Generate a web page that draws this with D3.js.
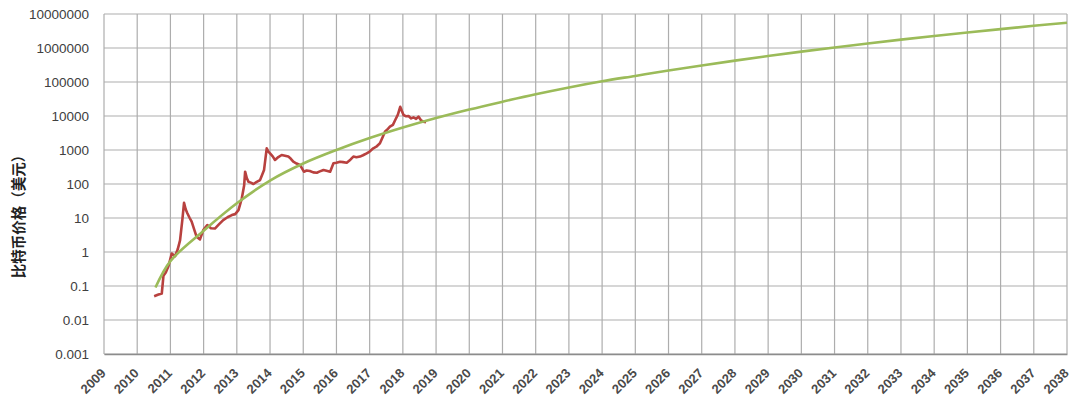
<!DOCTYPE html>
<html><head><meta charset="utf-8">
<script src="https://cdn.jsdelivr.net/npm/d3@7"></script>
<style>
html,body{margin:0;padding:0;background:#fff;}
svg{display:block;}
</style></head>
<body>
<svg id="chart" width="1080" height="408"></svg>
<script>
// ---- data ----
const yearTicks = d3.range(2009, 2039);           // x-axis tick labels
const yTicks = [0.001, 0.01, 0.1, 1, 10, 100, 1000, 10000, 100000, 1000000, 10000000];
const yTitle = "比特币价格（美元）";

// Bitcoin price (decimal year, USD)
const priceYears = [2010.51,2010.62,2010.74,2010.79,2010.86,2010.94,2011.04,2011.14,2011.22,2011.29,2011.36,2011.41,2011.46,2011.51,2011.58,2011.64,2011.72,2011.79,2011.89,2011.99,2012.11,2012.22,2012.34,2012.46,2012.59,2012.72,2012.85,2012.95,2013.05,2013.15,2013.22,2013.25,2013.3,2013.35,2013.42,2013.5,2013.6,2013.7,2013.82,2013.9,2013.95,2014.0,2014.08,2014.15,2014.25,2014.35,2014.45,2014.55,2014.62,2014.7,2014.8,2014.9,2015.02,2015.1,2015.2,2015.3,2015.41,2015.5,2015.61,2015.7,2015.81,2015.91,2016.0,2016.11,2016.2,2016.31,2016.42,2016.51,2016.6,2016.71,2016.8,2016.91,2017.0,2017.11,2017.2,2017.31,2017.4,2017.46,2017.55,2017.61,2017.7,2017.77,2017.85,2017.92,2017.97,2018.02,2018.1,2018.17,2018.25,2018.32,2018.4,2018.47,2018.55,2018.62,2018.7];
const priceValues = [0.05,0.055,0.06,0.2,0.25,0.38,0.9,0.75,1.2,2.2,9,28,18,13.8,10,7.8,4.5,2.8,2.35,4.4,6.2,5,4.9,6.5,8.7,10.5,12.2,13,17,38,90,230,150,117,110,100,115,131,259,1120,900,800,650,508,620,713,680,640,560,453,400,363,230,250,240,220,215,235,259,245,230,406,420,453,440,424,520,640,610,640,700,800,900,1120,1250,1575,2500,3450,4200,4840,5500,7600,11000,18700,14000,10700,9800,9940,8500,9130,8200,9600,7400,6800,6500];

// Power-law trend curve (decimal year, USD)
const trendYears = [2010.55,2011,2012,2013,2014,2015,2016,2017,2018,2019,2020,2021,2022,2023,2024,2025,2026,2027,2028,2029,2030,2031,2032,2033,2034,2035,2036,2037,2038];
const trendValues = [0.09,0.54,4.2,27,126,400,1000,2240,4570,8700,15500,26300,43600,69200,105000,151000,217000,307000,426000,580000,782000,1040000,1360000,1760000,2250000,2860000,3600000,4490000,5550000];

// ---- layout ----
const svg = d3.select("#chart");
const pL = 104, pR = 1067, pT = 14, pB = 354;

const x = d3.scaleLinear().domain([2009, 2038]).range([pL, pR]);
const y = d3.scaleLog().domain([0.001, 10000000]).range([pB, pT]);

// gridlines
const grid = svg.append("g");
grid.selectAll("line.h").data(yTicks).join("line")
  .attr("x1", pL).attr("x2", pR)
  .attr("y1", d => y(d)).attr("y2", d => y(d))
  .attr("stroke", "#adadad").attr("stroke-width", 1.2);
grid.selectAll("line.v").data(yearTicks).join("line")
  .attr("x1", d => x(d)).attr("x2", d => x(d))
  .attr("y1", pT).attr("y2", pB)
  .attr("stroke", "#adadad").attr("stroke-width", 1.2);

// axes
const yAxis = d3.axisLeft(y).tickValues(yTicks).tickFormat(d => String(d)).tickSize(0).tickPadding(15);
const gy = svg.append("g").attr("transform", `translate(${pL},0)`).call(yAxis);
gy.select(".domain").remove();
gy.selectAll("text").attr("font-family", "Liberation Sans, Arial, sans-serif").attr("font-size", 13.5).attr("fill", "#404040");

const xAxis = d3.axisBottom(x).tickValues(yearTicks).tickFormat(d => String(d)).tickSize(0);
const gx = svg.append("g").attr("transform", `translate(0,${pB})`).call(xAxis);
gx.select(".domain").attr("stroke", "#8c8c8c").attr("stroke-width", 1.3);
gx.selectAll("text")
  .attr("font-family", "Liberation Sans, Arial, sans-serif").attr("font-size", 13).attr("font-weight", "bold")
  .attr("fill", "#4a4a4a")
  .attr("text-anchor", "end")
  .attr("dy", null).attr("y", 0)
  .attr("transform", "translate(2,20) rotate(-45)");

// y title
svg.append("text")
  .attr("transform", "translate(24,213) rotate(-90)")
  .attr("text-anchor", "middle")
  .attr("font-family", "Noto Sans CJK SC, sans-serif")
  .attr("font-size", 14.5).attr("font-weight", "bold").attr("fill", "#222")
  .text(yTitle);

// lines
const line = d3.line().x(d => x(d[0])).y(d => y(d[1]));
const priceData = d3.zip(priceYears, priceValues);
const trendData = d3.zip(trendYears, trendValues);
const lineC = d3.line().curve(d3.curveCatmullRom.alpha(0.5)).x(d => x(d[0])).y(d => y(d[1]));

svg.append("path").datum(priceData)
  .attr("d", line).attr("fill", "none")
  .attr("stroke", "#b8413f").attr("stroke-width", 2.6).attr("stroke-linejoin", "round");

svg.append("path").datum(trendData)
  .attr("d", lineC).attr("fill", "none")
  .attr("stroke", "#9bbb59").attr("stroke-width", 2.6);
</script>
</body></html>
